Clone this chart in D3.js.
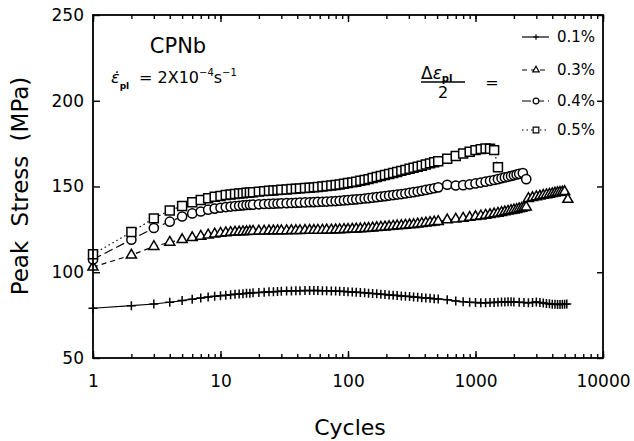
<!DOCTYPE html>
<html>
<head>
<meta charset="utf-8">
<script src="https://cdn.jsdelivr.net/npm/d3@7"></script>
<style>
body { margin: 0; background: #fff; }
text { font-family: "DejaVu Sans", sans-serif; fill: #000; }
</style>
</head>
<body>
<script>
// cycles recorded during the first ~500 cycles (shared by all four tests)
var cycles = [1,2,3,4,5,6,7,8,9,10,11,12,13,14,15,16,17,18,20,22,24,26,28,30,33,36,39,42,46,50,
  54,58,63,68,74,80,86,93,100,108,116,125,135,145,156,168,181,195,210,226,243,262,282,304,327,352,379,408,440,474,510];

var stress01 = [79,80.5,81.5,82.5,83.5,84.3,85,85.5,86,86.3,86.6,86.9,87.1,87.3,87.5,87.7,87.8,88,88.2,88.4,88.6,88.7,88.8,88.9,89,89.1,89.2,89.2,89.3,89.3,
  89.3,89.3,89.2,89.2,89.1,89,88.9,88.8,88.7,88.5,88.4,88.2,88,87.8,87.6,87.4,87.2,87,86.8,86.6,86.4,86.2,86,85.8,85.6,85.4,85.2,85,84.8,84.6,84.4];
var stress03 = [103,110,115,117.5,119,120.2,121,121.7,122.3,122.7,123,123.2,123.4,123.5,123.6,123.7,123.8,123.9,124,124,124.1,124.1,124.2,124.2,124.2,124.3,124.3,124.3,124.4,124.4,
  124.4,124.5,124.5,124.6,124.6,124.7,124.8,124.9,125,125.1,125.2,125.3,125.5,125.6,125.8,126,126.2,126.4,126.6,126.8,127,127.2,127.4,127.6,127.8,128.1,128.4,128.7,129,129.3,129.6];
var stress04 = [107.5,119,125.8,129.5,132.5,134.3,135.4,136.5,137.1,137.6,138,138.3,138.6,138.8,139,139.2,139.3,139.4,139.6,139.8,139.9,140,140.1,140.2,140.3,140.4,140.5,140.6,140.7,140.8,
  140.9,141,141.1,141.2,141.4,141.5,141.7,141.9,142.1,142.3,142.5,142.7,143,143.2,143.5,143.8,144.1,144.4,144.7,145,145.3,145.6,145.9,146.3,146.7,147.1,147.5,148,148.5,149,149.5];
var stress05 = [110.5,123.5,131.4,136,138.6,140.8,142.1,143.2,144,144.5,145,145.3,145.6,145.9,146.1,146.3,146.5,146.7,147,147.3,147.5,147.7,147.9,148.1,148.3,148.5,148.7,148.9,149.1,149.3,
  149.5,149.7,150,150.3,150.6,150.9,151.2,151.6,152,152.4,152.8,153.3,153.8,154.3,154.9,155.5,156.1,156.7,157.3,157.9,158.5,159.1,159.7,160.3,160.9,161.5,162.1,162.8,163.5,164.1,164.7];

// later, sparser records
var tailCycles01 = [600,700,800,900,1000,1100,1200,1300,1400,1500,1600,1700,1800,1900,2000,2200,2400,2600,2800,3000,3200,3400,3600,3800,4000,4200,4400,4600,4800,5000,5200];
var tailStress01 = [84,83.3,82.8,82.5,82.3,82.2,82.2,82.3,82.4,82.5,82.6,82.7,82.8,82.8,82.7,82.5,82.3,82.2,82.4,82.6,82.3,82,81.8,81.6,81.4,81.3,81.2,81.2,81.3,81.4,81.5];
var tailCycles03 = [600,700,800,900,1000,1100,1200,1300,1400,1500,1600,1700,1800,1900,2000,2100,2200,2300,2400,2500,2600,2800,3000,3200,3400,3600,3800,4000,4200,4400,4600,4800,5000,5300];
var tailStress03 = [130.5,131,131.5,132,132.4,132.8,133.2,133.6,134,134.4,134.8,135.2,135.6,136,136.3,136.6,137,137.3,137.7,138,143,143.5,144,144.4,144.8,145.2,145.5,145.8,146.1,146.4,146.6,146.8,147,142.5];
var tailCycles04 = [600,700,800,900,1000,1100,1200,1300,1400,1500,1600,1700,1800,1900,2000,2100,2200,2350,2500];
var tailStress04 = [151,150.6,150.8,151.2,151.8,152.3,152.8,153.3,153.8,154.3,154.8,155.3,155.7,156.1,156.5,157,157.4,157.8,154.3];
var tailCycles05 = [600,700,800,900,1000,1100,1200,1300,1400,1500];
var tailStress05 = [166.2,167.8,169.2,170.3,171.2,171.8,172.2,172,171.2,161.2];

var labels = ["0.1%", "0.3%", "0.4%", "0.5%"];
var xTickLabels = [1, 10, 100, 1000, 10000];
var yTickLabels = [50, 100, 150, 200, 250];

var W = 634, H = 441;
var pL = 93, pR = 603, pT = 15, pB = 358;

var x = d3.scaleLog().domain([1, 10000]).range([pL, pR]);
var y = d3.scaleLinear().domain([50, 250]).range([pB, pT]);

var svg = d3.select("body").append("svg")
    .attr("width", W)
    .attr("height", H);

// plus sign as an open stroke symbol
var plus = {
  draw: function(ctx, size) {
    var r = Math.sqrt(size) / 2;
    ctx.moveTo(-r, 0); ctx.lineTo(r, 0);
    ctx.moveTo(0, -r); ctx.lineTo(0, r);
  }
};

function join(c, s, tc, ts) {
  var pts = c.map(function(d, i) { return {c: d, s: s[i]}; });
  return pts.concat(tc.map(function(d, i) { return {c: d, s: ts[i]}; }));
}

var series = [
  {label: labels[0], pts: join(cycles, stress01, tailCycles01, tailStress01), sym: plus, size: 81, dash: null},
  {label: labels[1], pts: join(cycles, stress03, tailCycles03, tailStress03), sym: d3.symbolTriangle, size: 44, dash: "5,4"},
  {label: labels[2], pts: join(cycles, stress04, tailCycles04, tailStress04), sym: d3.symbolCircle, size: 66, dash: "9,4"},
  {label: labels[3], pts: join(cycles, stress05, tailCycles05, tailStress05), sym: d3.symbolSquare, size: 80, dash: "1.5,3"}
];

var line = d3.line()
    .x(function(d) { return x(d.c); })
    .y(function(d) { return y(d.s); });

// connecting lines
svg.append("g").selectAll("path")
  .data(series)
  .enter().append("path")
    .attr("d", function(d) { return line(d.pts); })
    .attr("fill", "none")
    .attr("stroke", "#000")
    .attr("stroke-width", 1.2)
    .attr("stroke-dasharray", function(d) { return d.dash; });

// markers
series.forEach(function(s) {
  svg.append("g").selectAll("path")
    .data(s.pts)
    .enter().append("path")
      .attr("transform", function(d) { return "translate(" + x(d.c) + "," + y(d.s) + ")"; })
      .attr("d", d3.symbol().type(s.sym).size(s.size))
      .attr("fill", "#fff")
      .attr("stroke", "#000")
      .attr("stroke-width", 1.5);
});

// axes with inward ticks
function style(g) {
  g.select(".domain").remove();
  g.selectAll("line").attr("stroke", "#000").attr("stroke-width", 1.4);
  g.selectAll("text").style("font-size", "17px").style("font-family", "DejaVu Sans, sans-serif");
}

svg.append("g").attr("transform", "translate(0," + pB + ")")
  .call(d3.axisBottom(x).tickValues(x.ticks()).tickSize(-4).tickFormat(""))
  .call(style);
svg.append("g").attr("transform", "translate(0," + pB + ")")
  .call(d3.axisBottom(x).tickValues(xTickLabels).tickSize(-7).tickPadding(17).tickFormat(d3.format("d")))
  .call(style);
svg.append("g").attr("transform", "translate(0," + pT + ")")
  .call(d3.axisTop(x).tickValues(x.ticks()).tickSize(-4).tickFormat(""))
  .call(style);
svg.append("g").attr("transform", "translate(0," + pT + ")")
  .call(d3.axisTop(x).tickValues(xTickLabels).tickSize(-7).tickFormat(""))
  .call(style);
svg.append("g").attr("transform", "translate(" + pL + ",0)")
  .call(d3.axisLeft(y).tickValues(yTickLabels).tickSize(-7).tickPadding(9))
  .call(style);
svg.append("g").attr("transform", "translate(" + pR + ",0)")
  .call(d3.axisRight(y).tickValues(yTickLabels).tickSize(-6).tickFormat(""))
  .call(style);

svg.append("rect")
    .attr("x", pL).attr("y", pT)
    .attr("width", pR - pL).attr("height", pB - pT)
    .attr("fill", "none")
    .attr("stroke", "#000")
    .attr("stroke-width", 1.8);

// axis titles
svg.append("text")
    .attr("x", (pL + pR) / 2 + 2).attr("y", 435)
    .attr("text-anchor", "middle")
    .style("font-size", "22px")
    .text("Cycles");
svg.append("text")
    .attr("transform", "translate(28,186) rotate(-90)")
    .attr("text-anchor", "middle")
    .style("font-size", "23px")
    .style("word-spacing", "7px")
    .text("Peak Stress (MPa)");

// annotations
svg.append("text")
    .attr("x", 178).attr("y", 53)
    .attr("text-anchor", "middle")
    .style("font-size", "21px")
    .text("CPNb");

var eps = svg.append("text").attr("x", 111).attr("y", 83).style("font-size", "16px");
eps.append("tspan").style("font-style", "italic").text("\u03b5\u0307");
eps.append("tspan").attr("dy", 6).style("font-size", "9px").style("font-weight", "bold").text("pl");
eps.append("tspan").attr("x", 139).attr("dy", -6).text("=  2X10");
eps.append("tspan").attr("dy", -7).style("font-size", "10px").text("\u22124");
eps.append("tspan").attr("dy", 7).text("s");
eps.append("tspan").attr("dy", -7).style("font-size", "10px").text("\u22121");

var frac = svg.append("text").attr("x", 421).attr("y", 79).style("font-size", "17px");
frac.append("tspan").text("\u0394");
frac.append("tspan").style("font-style", "italic").text("\u03b5");
frac.append("tspan").attr("dy", 3).style("font-size", "10px").style("font-weight", "bold").text("pl");
svg.append("line")
    .attr("x1", 421).attr("x2", 465).attr("y1", 82).attr("y2", 82)
    .attr("stroke", "#000").attr("stroke-width", 1.3);
svg.append("text")
    .attr("x", 443).attr("y", 98)
    .attr("text-anchor", "middle")
    .style("font-size", "16px")
    .text("2");
svg.append("text")
    .attr("x", 492).attr("y", 88)
    .attr("text-anchor", "middle")
    .style("font-size", "16px")
    .text("=");

// legend
var legendY = [37, 70, 101, 130];
var lg = svg.append("g").selectAll("g")
  .data(series)
  .enter().append("g")
    .attr("transform", function(d, i) { return "translate(0," + legendY[i] + ")"; });
lg.append("line")
    .attr("x1", 522).attr("x2", 549)
    .attr("stroke", "#000").attr("stroke-width", 1.2)
    .attr("stroke-dasharray", function(d) { return d.dash; });
lg.append("path")
    .attr("transform", "translate(536,0)")
    .attr("d", function(d) { return d3.symbol().type(d.sym).size(d.size * 0.4)(); })
    .attr("fill", "#fff")
    .attr("stroke", "#000")
    .attr("stroke-width", 1.2);
lg.append("text")
    .attr("x", 557).attr("dy", "0.36em")
    .style("font-size", "15px")
    .text(function(d) { return d.label; });
</script>
</body>
</html>
